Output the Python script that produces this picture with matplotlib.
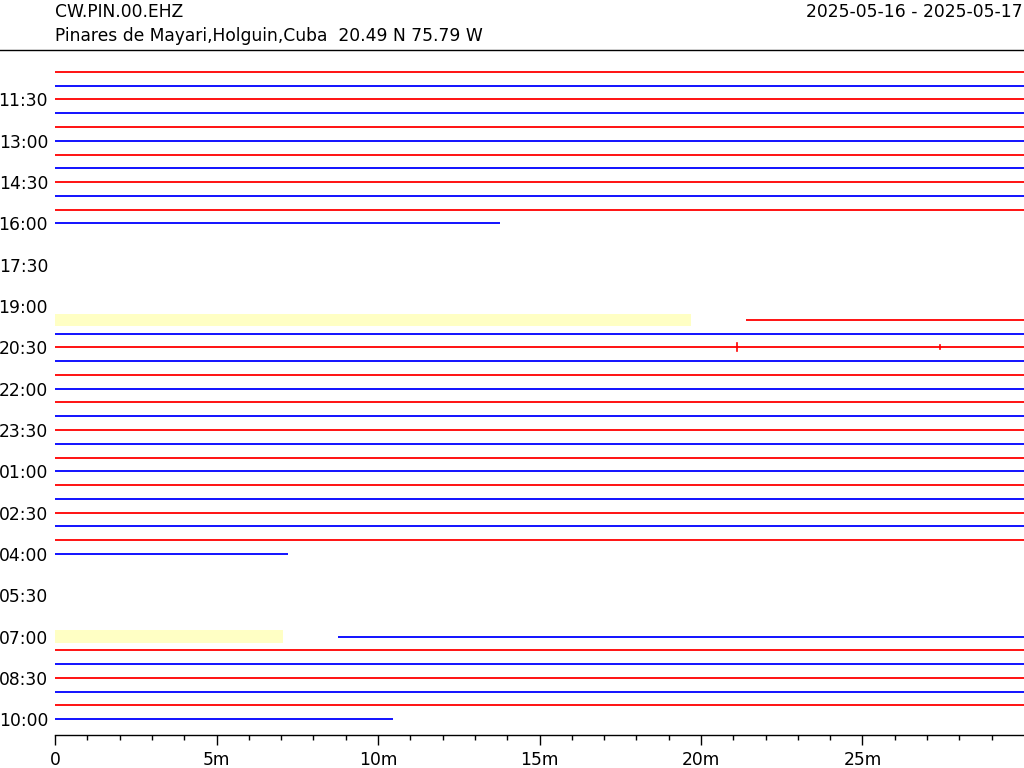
import matplotlib
matplotlib.use("Agg")
import matplotlib.pyplot as plt
from matplotlib.lines import Line2D

# Helicorder rows: 30 min each, row 0 starts 2025-05-16 10:30
station = "CW.PIN.00.EHZ"
site = "Pinares de Mayari,Holguin,Cuba  20.49 N 75.79 W"
date_range = "2025-05-16 - 2025-05-17"

full_rows = [*range(0, 11), *range(19, 35), *range(42, 47)]
part_rows = [11, 18, 35, 41, 47]
part_start = [0, 21.39, 0, 8.77, 0]
part_end = [13.78, 30, 7.21, 30, 10.45]

# yellow (gap) markers
gap_rows = [18, 41]
gap_end = [19.69, 7.05]

# small events on the 20:30 line
event_rows = [20, 20]
event_min = [21.12, 27.4]
event_amp = [0.3, 0.15]

ytick_rows = [2, 5, 8, 11, 14, 17, 20, 23, 26, 29, 32, 35, 38, 41, 44, 47]
ytick_labels = ["11:30", "13:00", "14:30", "16:00", "17:30", "19:00", "20:30",
                "22:00", "23:30", "01:00", "02:30", "04:00", "05:30", "07:00",
                "08:30", "10:00"]
xticks = [0, 5, 10, 15, 20, 25]
xtick_labels = ["0", "5m", "10m", "15m", "20m", "25m"]

W, H = 1024, 768
FS = 12.3
fig = plt.figure(figsize=(W / 100, H / 100), dpi=100)
ax = fig.add_axes([55 / W, 1 - 735 / H, 969 / W, 680 / H])


def colour(r):
    return "#ff0000" if r % 2 == 0 else "#0000ff"


for r in full_rows:
    ax.plot([0, 30], [r, r], color=colour(r), lw=1.3, solid_capstyle="butt")
for r, a, b in zip(part_rows, part_start, part_end):
    ax.plot([a, b], [r, r], color=colour(r), lw=1.3, solid_capstyle="butt")
for r, b in zip(gap_rows, gap_end):
    ax.fill_between([0, b], r - 0.45, r + 0.45, color="#ffffc4", lw=0)
for r, m, a in zip(event_rows, event_min, event_amp):
    ax.plot([m, m], [r - a, r + a], color=colour(r), lw=1.2)

ax.set_xlim(0, 30)
ax.set_ylim(48.15, -1.227)
ax.set_xticks(xticks)
ax.set_xticklabels(xtick_labels, fontsize=FS)
ax.set_xticks(range(0, 30), minor=True)
ax.set_yticks(ytick_rows)
ax.set_yticklabels(ytick_labels, fontsize=FS)
ax.tick_params(axis="x", which="major", length=7.5, width=1, pad=4)
ax.tick_params(axis="x", which="minor", length=3.8, width=1)
ax.tick_params(axis="y", length=0, pad=5)
for s in ["left", "right", "top"]:
    ax.spines[s].set_visible(False)
ax.spines["bottom"].set_linewidth(1)

fig.text(55 / W, 1 - 16.7 / H, station, fontsize=FS, va="baseline", ha="left")
fig.text(55 / W, 1 - 40.7 / H, site, fontsize=FS, va="baseline", ha="left")
fig.text(1023 / W, 1 - 16.7 / H, date_range, fontsize=FS, va="baseline", ha="right")
fig.add_artist(Line2D([0, 1], [1 - 50 / H, 1 - 50 / H], transform=fig.transFigure,
                      color="black", lw=1))

fig.savefig("out.png", dpi=100)
